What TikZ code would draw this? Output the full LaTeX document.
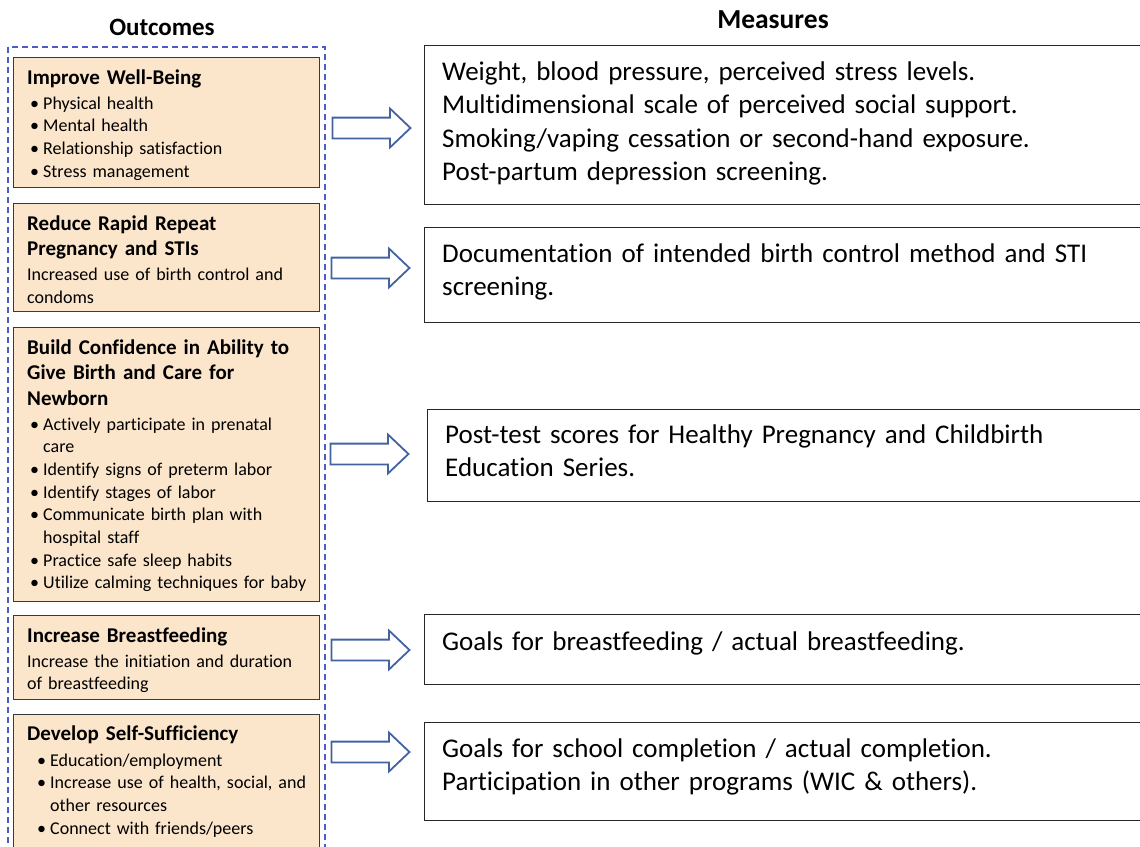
\documentclass[tikz,border=0pt]{standalone}
\usepackage{fontspec}
\setmainfont{Carlito}[Ligatures=NoCommon]
\usepackage{tikz}
\usetikzlibrary{positioning}
\usetikzlibrary{shapes.arrows}
\definecolor{peach}{HTML}{FBE5CB}
\definecolor{boxline}{HTML}{3A3A3A}
\definecolor{arrowblue}{HTML}{4262A2}
\definecolor{dashblue}{HTML}{4C5CC4}
\newcommand{\hdfont}{\fontsize{21}{25.5}\selectfont\bfseries}
\newcommand{\bdfont}{\fontsize{18}{22.7}\selectfont}
\newcommand{\msfont}{\fontsize{27}{33.5}\selectfont}
\newcommand{\bul}{\makebox[13pt][l]{\textbullet}}
\newcommand{\cnt}{\hspace*{13pt}}
\tikzset{obox/.style = {draw=boxline, fill=peach, line width=1.4, anchor=north west,
                        minimum width=306, inner sep=0}}
\tikzset{mbox/.style = {draw=black!85, line width=1.4, anchor=north west,
                        minimum width=760, inner sep=0}}
\tikzset{txt/.style = {anchor=base west, inner sep=0, align=left, text width=#1},
         txt/.default = 320}
\tikzset{bigarrow/.style = {single arrow, draw=arrowblue, fill=white, line width=1.8,
                            minimum height=78, single arrow head extend=9,
                            inner xsep=0, inner ysep=9.5, single arrow tip angle=87}}

\begin{document}
\begin{tikzpicture}[x=1pt, y=-1pt]
      \useasboundingbox (0, 0) rectangle (1140, 846);
      \clip (0, 0) rectangle (1140, 846);

      \node at (162, 35) [anchor=base, font=\fontsize{25}{30}\selectfont\bfseries] (outh) {Outcomes};
      \node at (773, 28) [anchor=base, font=\fontsize{27.5}{32}\selectfont\bfseries] (meash) {Measures};
      \draw [dashblue, line width=1.3, dash pattern=on 6pt off 4pt] (8, 47) rectangle (325, 870);

      \node at (13, 57) [obox, minimum height=130] (o1) {};
      \node at (13, 203) [obox, minimum height=108] (o2) {};
      \node at (13, 327) [obox, minimum height=274] (o3) {};
      \node at (13, 615) [obox, minimum height=84] (o4) {};
      \node at (13, 714) [obox, minimum height=150] (o5) {};

      \node at ([xshift=14, yshift=-27]o1.north west) [txt, font=\hdfont] (o1t) {Improve Well-Being};
      \node at ([xshift=17, yshift=-52]o1.north west) [txt, font=\bdfont] (o1b)
            {\bul Physical health\\ \bul Mental health\\ \bul Relationship satisfaction\\ \bul Stress management};
      \node at ([xshift=14, yshift=-27]o2.north west) [txt, font=\hdfont] (o2t) {Reduce Rapid Repeat\\Pregnancy and STIs};
      \node at ([xshift=14, yshift=-77.5]o2.north west) [txt, font=\bdfont] (o2b)
            {Increased use of birth control and\\condoms};
      \node at ([xshift=14, yshift=-27]o3.north west) [txt, font=\hdfont] (o3t)
            {Build Confidence in Ability to\\Give Birth and Care for\\Newborn};
      \node at ([xshift=17, yshift=-103]o3.north west) [txt, font=\bdfont] (o3b)
            {\bul Actively participate in prenatal\\ \cnt care\\ \bul Identify signs of preterm labor\\
             \bul Identify stages of labor\\ \bul Communicate birth plan with\\ \cnt hospital staff\\
             \bul Practice safe sleep habits\\ \bul Utilize calming techniques for baby};
      \node at ([xshift=14, yshift=-27]o4.north west) [txt, font=\hdfont] (o4t) {Increase Breastfeeding};
      \node at ([xshift=14, yshift=-52]o4.north west) [txt, font=\bdfont] (o4b)
            {Increase the initiation and duration\\of breastfeeding};
      \node at ([xshift=14, yshift=-26]o5.north west) [txt, font=\hdfont] (o5t) {Develop Self-Sufficiency};
      \node at ([xshift=24, yshift=-52]o5.north west) [txt, font=\bdfont] (o5b)
            {\bul Education/employment\\ \bul Increase use of health, social, and\\ \cnt other resources\\
             \bul Connect with friends/peers};

      \node at (424, 45) [mbox, minimum height=159] (m1) {};
      \node at (424, 227) [mbox, minimum height=95] (m2) {};
      \node at (427, 409) [mbox, minimum height=92] (m3) {};
      \node at (424, 614) [mbox, minimum height=70] (m4) {};
      \node at (424, 722) [mbox, minimum height=98] (m5) {};

      \node at ([xshift=18, yshift=-35]m1.north west) [txt=700, font=\msfont] (m1t)
            {Weight, blood pressure, perceived stress levels.\\Multidimensional scale of perceived social support.\\
             Smoking/vaping cessation or second-hand exposure.\\Post-partum depression screening.};
      \node at ([xshift=18, yshift=-35]m2.north west) [txt=700, font=\msfont] (m2t)
            {Documentation of intended birth control method and STI\\screening.};
      \node at ([xshift=18, yshift=-34]m3.north west) [txt=700, font=\msfont] (m3t)
            {Post-test scores for Healthy Pregnancy and Childbirth\\Education Series.};
      \node at ([xshift=18, yshift=-36]m4.north west) [txt=700, font=\msfont] (m4t)
            {Goals for breastfeeding / actual breastfeeding.};
      \node at ([xshift=18, yshift=-35]m5.north west) [txt=700, font=\msfont] (m5t)
            {Goals for school completion / actual completion.\\Participation in other programs (WIC \& others).};

      \node at (366, 128) [bigarrow] (a1) {};
      \node at (365, 268) [bigarrow] (a2) {};
      \node at (364, 454) [bigarrow] (a3) {};
      \node at (365, 650) [bigarrow] (a4) {};
      \node at (365, 752) [bigarrow] (a5) {};
    \end{tikzpicture}
\end{document}
